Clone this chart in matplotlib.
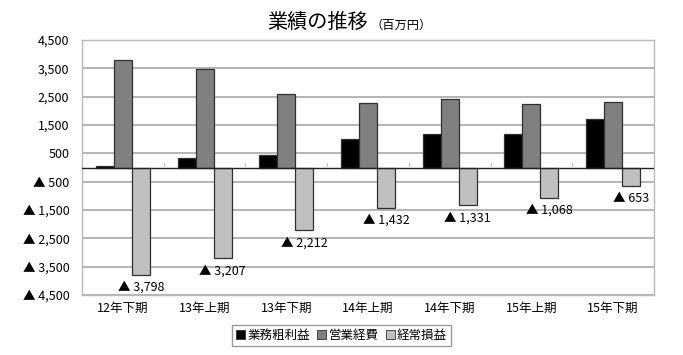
import numpy as np
import matplotlib
matplotlib.use('Agg')
import matplotlib.pyplot as plt
from matplotlib.patches import Patch

plt.rcParams['font.family'] = ['Noto Sans CJK JP', 'DejaVu Sans']

# ── データ（百万円） ──────────────────────────────────────
periods = ['12年下期', '13年上期', '13年下期', '14年上期', '14年下期', '15年上期', '15年下期']
gross_profit = [40, 320, 440, 1000, 1180, 1200, 1720]        # 業務粗利益
expenses = [3790, 3490, 2590, 2270, 2420, 2230, 2310]        # 営業経費
ordinary = [-3798, -3207, -2212, -1432, -1331, -1068, -653]  # 経常損益
series_names = ['業務粗利益', '営業経費', '経常損益']
ytick_values = [4500, 3500, 2500, 1500, 500, -500, -1500, -2500, -3500, -4500]


def fmt(v):
    # マイナスは「▲」表記
    if v < 0:
        return '▲ ' + f'{abs(v):,}'
    return f'{v:,}'


colors = ['#000000', '#808080', '#c0c0c0']
edge = '#303030'

fig = plt.figure(figsize=(6.83, 3.55), dpi=100)
ax = fig.add_axes([0.120, 0.169, 0.8375, 0.718])

x = np.arange(len(periods))
w = 0.22
for k, vals in enumerate([gross_profit, expenses, ordinary]):
    ax.bar(x + (k - 1) * w, vals, width=w, color=colors[k],
           edgecolor=edge, linewidth=0.9, zorder=3)

# 経常損益のラベル（バーの下）
for xi, v in zip(x, ordinary):
    ax.annotate(fmt(v), (xi + w, v), xytext=(0, -9), textcoords='offset points',
                ha='center', va='center', fontsize=9)

ax.set_xlim(-0.5, len(periods) - 0.5)
ax.set_ylim(-4500, 4500)
ax.set_yticks(ytick_values)
ax.set_yticklabels([fmt(v) for v in ytick_values], fontsize=9)
ax.set_xticks(x)
ax.set_xticklabels(periods, fontsize=9)
ax.tick_params(axis='both', length=0)
ax.tick_params(axis='x', pad=5)
ax.tick_params(axis='y', pad=9)

ax.yaxis.grid(True, color='#a8a8a8', linewidth=1.2, zorder=0)
ax.axhline(0, color='#202020', linewidth=1.0, zorder=4)
# 区切りの小さな目盛り
ax.vlines(x[:-1] + 0.5, 60, 160, color='#b0b0b0', linewidth=0.8, zorder=2)

for s in ax.spines.values():
    s.set_color('#b8b8b8')
    s.set_linewidth(1.0)

fig.text(0.539, 0.937, '業績の推移', fontsize=14.5, ha='right', va='center')
fig.text(0.543, 0.928, '（百万円）', fontsize=8.8, ha='left', va='center')

handles = [Patch(facecolor=c, edgecolor=edge, linewidth=0.6) for c in colors]
fig.legend(handles, series_names, loc='center', bbox_to_anchor=(0.50, 0.055),
           ncol=3, fontsize=9, frameon=True, fancybox=False, edgecolor='#808080',
           handlelength=0.7, handleheight=0.7, handletextpad=0.2,
           columnspacing=0.6, borderpad=0.3, borderaxespad=0)

fig.savefig('out.png', dpi=100)
